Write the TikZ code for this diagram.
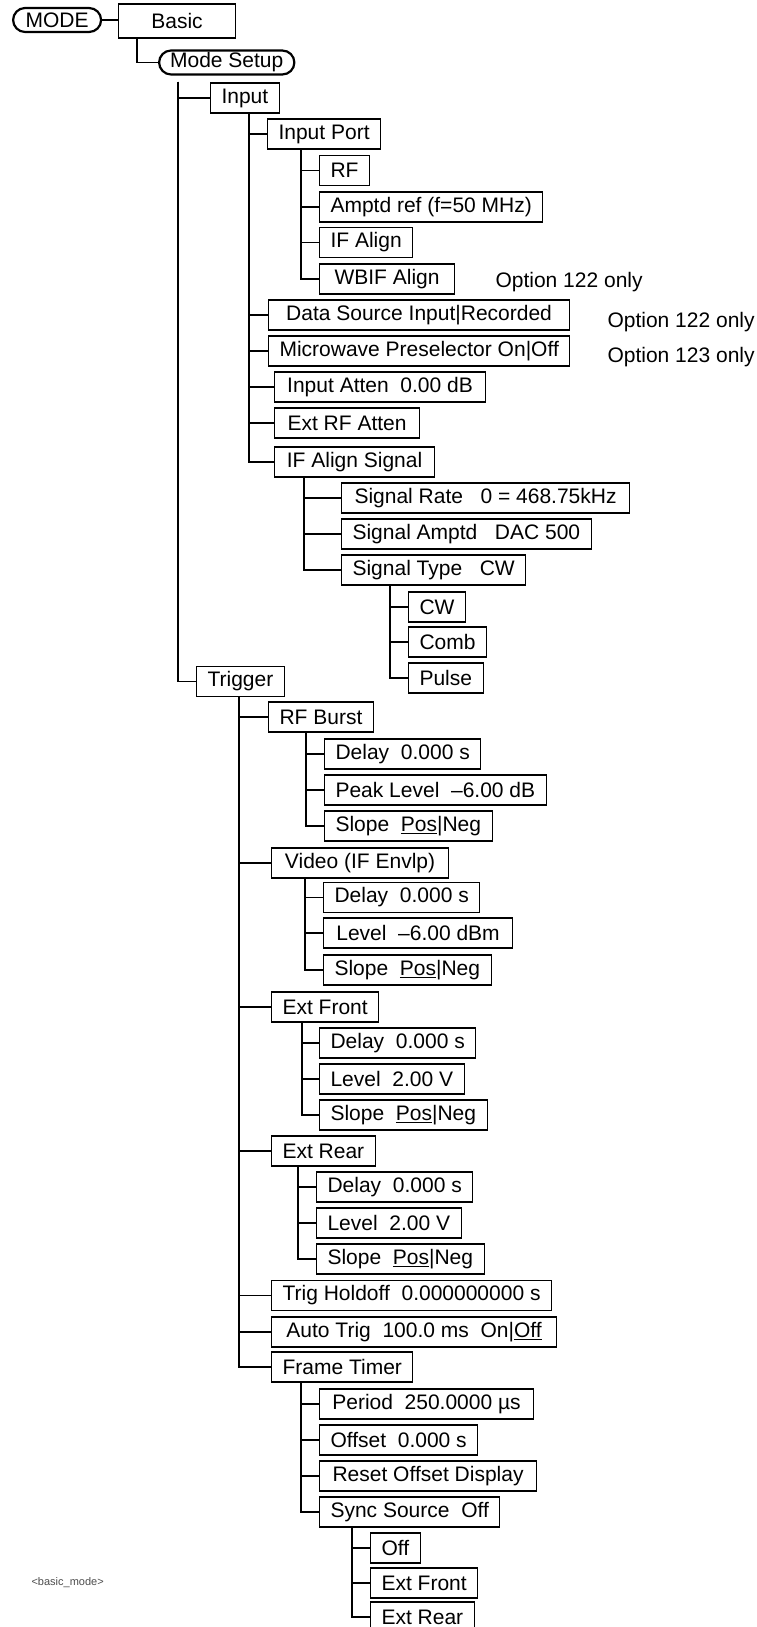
\documentclass[tikz,border=0pt]{standalone}
\usepackage{fontspec}
\setmainfont{Liberation Sans}
\usepackage{tikz}
\tikzset{item/.style={draw, anchor=west, minimum height=30pt,
  inner xsep=11pt, inner ysep=0pt},
  pill/.style={item, rounded corners=12pt, line width=2.2pt,
  minimum height=24pt},
  note/.style={anchor=west, inner sep=0pt}}

\begin{document}
\begin{tikzpicture}[x=1pt, y=-1pt, line width=1.1pt,
  font=\fontsize{21}{25}\selectfont]
  \useasboundingbox (0,0) rectangle (756,1627);
  \node[pill, minimum width=88pt] (mode) at (12, 20) {MODE};
  \node[item, minimum width=117pt, minimum height=34pt] (basic) at (118, 21) {Basic};
  \node[pill] (msetup) at (158, 62.5) {Mode Setup};
  % input branch
  \node[item] (inp)  at (210, 98)    {Input};
  \node[item] (port) at (267, 134)   {Input Port};
  \node[item] (rf)   at (319, 170.5) {RF};
  \node[item] (aref) at (319, 207)   {Amptd ref (f=50 MHz)};
  \node[item] (ifal) at (319, 242.5) {IF Align};
  \node[item, minimum width=135pt] (wbif) at (319, 279) {WBIF Align};
  \node[item, minimum width=301pt] (dsrc) at (268, 315) {Data Source Input|Recorded};
  \node[item, minimum width=301pt] (mwps) at (268, 351) {Microwave Preselector On|Off};
  \node[note] (opt1) at (495, 282) {Option 122 only};
  \node[note] (opt2) at (607, 322) {Option 122 only};
  \node[note] (opt3) at (607, 357) {Option 123 only};
  \node[item, minimum width=211pt] (iatt) at (274, 387) {Input Atten\ \ 0.00 dB};
  \node[item, minimum width=145pt] (xatt) at (274, 423) {Ext RF Atten};
  \node[item, minimum width=160pt] (ifsig) at (274, 462) {IF Align Signal};
  \node[item, minimum width=288pt] (srate) at (341, 498) {Signal Rate\ \ \ 0 = 468.75kHz};
  \node[item] (samp)  at (341, 534) {Signal Amptd\ \ \ DAC 500};
  \node[item] (stype) at (341, 570) {Signal Type\ \ \ CW};
  \node[item] (cw)    at (408, 607) {CW};
  \node[item] (comb)  at (408, 642) {Comb};
  \node[item] (pulse) at (408, 678) {Pulse};
  % trigger branch
  \node[item] (trig)  at (196, 681.5) {Trigger};
  \node[item] (burst) at (268, 717) {RF Burst};
  \node[item] (bdel)  at (324, 754) {Delay\ \ 0.000 s};
  \node[item] (bpk)   at (324, 790) {Peak Level\ \ –6.00 dB};
  \node[item] (bslp)  at (324, 826) {Slope\ \ \underline{Pos}|Neg};
  \node[item, minimum width=177pt] (video) at (271, 863) {Video (IF Envlp)};
  \node[item] (vdel)  at (323, 897.5) {Delay\ \ 0.000 s};
  \node[item, minimum width=189pt] (vlev) at (323, 933) {Level\ \ –6.00 dBm};
  \node[item] (vslp)  at (323, 970) {Slope\ \ \underline{Pos}|Neg};
  \node[item] (efront) at (271, 1007) {Ext Front};
  \node[item] (fdel)  at (319, 1043) {Delay\ \ 0.000 s};
  \node[item] (flev)  at (319, 1079) {Level\ \ 2.00 V};
  \node[item] (fslp)  at (319, 1115) {Slope\ \ \underline{Pos}|Neg};
  \node[item] (erear) at (271, 1151) {Ext Rear};
  \node[item] (rdel)  at (316, 1187) {Delay\ \ 0.000 s};
  \node[item] (rlev)  at (316, 1223) {Level\ \ 2.00 V};
  \node[item] (rslp)  at (316, 1259) {Slope\ \ \underline{Pos}|Neg};
  \node[item] (hold)  at (271, 1295.5) {Trig Holdoff\ \ 0.000000000 s};
  \node[item, minimum width=285pt] (atrig) at (271, 1332) {Auto Trig\ \ 100.0 ms\ \ On|\underline{Off}};
  \node[item] (ftimer) at (271, 1367) {Frame Timer};
  \node[item, minimum width=214pt] (period) at (319, 1404) {Period\ \ 250.0000 µs};
  \node[item] (offs)  at (319, 1440) {Offset\ \ 0.000 s};
  \node[item, minimum width=217pt] (reset) at (319, 1476) {Reset Offset Display};
  \node[item] (sync)  at (319, 1512) {Sync Source\ \ Off};
  \node[item] (soff)  at (370, 1548) {Off};
  \node[item] (sfront) at (370, 1583) {Ext Front};
  \node[item] (srear) at (370, 1617) {Ext Rear};
  \node[note, text=black!70, font=\fontsize{11}{13}\selectfont] (tag) at (31, 1583) {<basic\_mode>};
  % connectors
  \draw (mode.east) -- (mode.east -| basic.west);
  \draw ([xshift=19pt]basic.south west) |- (msetup.west);
  \draw ([xshift=20pt, yshift=-6pt]msetup.south west) |- (inp.west);
  \draw ([xshift=20pt, yshift=-6pt]msetup.south west) |- (trig.west);
  \draw ([xshift=39pt]inp.south west) |- (port.west);
  \draw ([xshift=39pt]inp.south west) |- (dsrc.west);
  \draw ([xshift=39pt]inp.south west) |- (mwps.west);
  \draw ([xshift=39pt]inp.south west) |- (iatt.west);
  \draw ([xshift=39pt]inp.south west) |- (xatt.west);
  \draw ([xshift=39pt]inp.south west) |- (ifsig.west);
  \draw ([xshift=34pt]port.south west) |- (rf.west);
  \draw ([xshift=34pt]port.south west) |- (aref.west);
  \draw ([xshift=34pt]port.south west) |- (ifal.west);
  \draw ([xshift=34pt]port.south west) |- (wbif.west);
  \draw ([xshift=30pt]ifsig.south west) |- (srate.west);
  \draw ([xshift=30pt]ifsig.south west) |- (samp.west);
  \draw ([xshift=30pt]ifsig.south west) |- (stype.west);
  \draw ([xshift=49pt]stype.south west) |- (cw.west);
  \draw ([xshift=49pt]stype.south west) |- (comb.west);
  \draw ([xshift=49pt]stype.south west) |- (pulse.west);
  \draw ([xshift=43pt]trig.south west) |- (burst.west);
  \draw ([xshift=43pt]trig.south west) |- (video.west);
  \draw ([xshift=43pt]trig.south west) |- (efront.west);
  \draw ([xshift=43pt]trig.south west) |- (erear.west);
  \draw ([xshift=43pt]trig.south west) |- (hold.west);
  \draw ([xshift=43pt]trig.south west) |- (atrig.west);
  \draw ([xshift=43pt]trig.south west) |- (ftimer.west);
  \draw ([xshift=38pt]burst.south west) |- (bdel.west);
  \draw ([xshift=38pt]burst.south west) |- (bpk.west);
  \draw ([xshift=38pt]burst.south west) |- (bslp.west);
  \draw ([xshift=34pt]video.south west) |- (vdel.west);
  \draw ([xshift=34pt]video.south west) |- (vlev.west);
  \draw ([xshift=34pt]video.south west) |- (vslp.west);
  \draw ([xshift=31pt]efront.south west) |- (fdel.west);
  \draw ([xshift=31pt]efront.south west) |- (flev.west);
  \draw ([xshift=31pt]efront.south west) |- (fslp.west);
  \draw ([xshift=27pt]erear.south west) |- (rdel.west);
  \draw ([xshift=27pt]erear.south west) |- (rlev.west);
  \draw ([xshift=27pt]erear.south west) |- (rslp.west);
  \draw ([xshift=30pt]ftimer.south west) |- (period.west);
  \draw ([xshift=30pt]ftimer.south west) |- (offs.west);
  \draw ([xshift=30pt]ftimer.south west) |- (reset.west);
  \draw ([xshift=30pt]ftimer.south west) |- (sync.west);
  \draw ([xshift=33pt]sync.south west) |- (soff.west);
  \draw ([xshift=33pt]sync.south west) |- (sfront.west);
  \draw ([xshift=33pt]sync.south west) |- (srear.west);
\end{tikzpicture}
\end{document}
